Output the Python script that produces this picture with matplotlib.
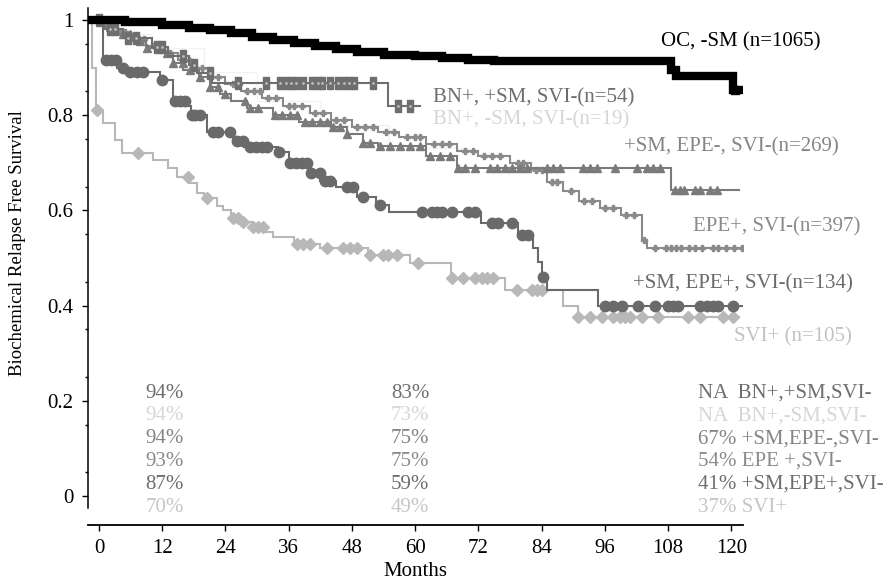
import numpy as np
import matplotlib
matplotlib.use("Agg")
import matplotlib.pyplot as plt
from matplotlib.ticker import FixedLocator

plt.rcParams['font.family'] = ['Liberation Serif', 'DejaVu Serif']

# ---------------- data (months, survival) ----------------
# OC, -SM (n=1065)
t_oc = [-1.5, 5, 12, 17, 21, 25, 29, 33, 37, 41, 45, 49, 54, 60, 65, 70, 75, 108.5, 109.5, 120.3]
s_oc = [1.0, 0.996, 0.99, 0.984, 0.978, 0.972, 0.965, 0.958, 0.952, 0.945, 0.939, 0.933, 0.927,
        0.924, 0.92, 0.916, 0.913, 0.895, 0.882, 0.853]
c_oc = [120.6]
end_oc = 121.5

# BN+, +SM, SVI- (n=54)
t_bp = [-1.5, 1.0, 4.5, 10, 13, 17, 18.5, 21.5, 54.8]
s_bp = [1.0, 0.981, 0.963, 0.944, 0.925, 0.906, 0.888, 0.868, 0.82]
c_bp = [0, 2, 3, 5.5, 7, 11, 12, 16, 18, 21, 26.4, 31.6, 34.4, 35.5, 36.5, 37.3, 38.8, 40.5,
        41.5, 42.4, 43.9, 45.4, 46.5, 47.5, 48.3, 51.9, 56.8, 59.1]
end_bp = 61

# BN+, -SM, SVI- (n=19)
t_bn = [-1.5, 4, 10, 20, 30, 42, 55]
s_bn = [1.0, 0.97, 0.94, 0.89, 0.83, 0.78, 0.73]
c_bn = []
end_bn = 70

# +SM, EPE-, SVI- (n=269)
t_em = [-1.5, 1, 3, 6, 9, 12, 14, 16, 19, 21, 23, 25, 28, 33, 38, 44, 47, 50, 53, 62, 68, 108.6]
s_em = [1.0, 0.985, 0.97, 0.955, 0.94, 0.93, 0.91, 0.895, 0.88, 0.86, 0.845, 0.83, 0.815, 0.80,
        0.785, 0.775, 0.76, 0.742, 0.735, 0.715, 0.69, 0.643]
c_em = [2, 4.6, 5.9, 7.8, 9.1, 12.9, 14, 15.9, 17.3, 19.2, 21.1, 22.6, 23.9, 27.7, 28.7, 30.2,
        33.4, 34.7, 36.2, 37.6, 39.1, 40.4, 41.9, 43.3, 44.4, 45.7, 47.1, 50.1, 51.4, 53.3, 55.2,
        57.1, 59, 60.9, 62.8, 64.7, 66.6, 68.2, 69.4, 71.3, 74.2, 75.5, 77, 78.4, 79.9, 81.2, 85,
        86.1, 87.5, 91.8, 93.2, 94.5, 97.9, 102.1, 104, 105.1, 106.4, 109.3, 110.2, 111, 113.1,
        114, 115.9, 117.3]
end_em = 121.5

# EPE+, SVI- (n=397)
t_ep = [-1.5, 1, 3, 6, 9, 12, 15, 18, 21, 24, 27, 31, 35, 40, 44, 48, 53, 57, 62, 68, 72, 78,
        82, 85, 88, 91, 95, 99, 103, 104]
s_ep = [1.0, 0.99, 0.975, 0.96, 0.945, 0.93, 0.915, 0.90, 0.88, 0.865, 0.85, 0.835, 0.82, 0.805,
        0.79, 0.775, 0.765, 0.755, 0.74, 0.725, 0.715, 0.70, 0.685, 0.66, 0.64, 0.62, 0.605,
        0.59, 0.538, 0.522]
c_ep = [2, 4, 5, 7.5, 8.5, 10.5, 11.5, 13.5, 16, 17, 19.5, 22.5, 25.5, 26.5, 28, 29.5, 30.5, 32,
        33.5, 36, 37, 38.5, 41, 42.5, 45, 46.5, 49, 50.5, 52, 54.5, 56, 58.5, 60, 61, 63.5, 65,
        66.5, 69.5, 71, 73, 74.5, 76, 79.5, 80.5, 83, 84, 86, 87, 89.5, 92, 93.5, 96, 97.5, 100,
        101.5, 103.5, 105.5, 107.5, 108.5, 109.5, 110.5, 112, 113, 114.5, 116.5, 117.5, 119,
        120.5, 122]
end_ep = 122

# +SM, EPE+, SVI- (n=134)
t_cr = [-1.5, 0.8, 3.5, 5, 11.5, 14, 16.5, 17.5, 20.5, 25.5, 27.5, 34, 36, 40, 42, 45, 49, 52.5,
        55, 72.5, 79.5, 82.3, 83.3, 84.0, 85, 94.7]
s_cr = [1.0, 0.916, 0.90, 0.89, 0.874, 0.83, 0.82, 0.80, 0.765, 0.745, 0.733, 0.723, 0.70,
        0.678, 0.662, 0.65, 0.628, 0.611, 0.597, 0.574, 0.548, 0.521, 0.492, 0.46, 0.433, 0.40]
c_cr = [1.3, 2.3, 3.2, 4.6, 5.9, 7.2, 8.3, 12, 14.4, 15.4, 16.3, 17.7, 18.2, 19.2, 21.6, 22.6,
        24.9, 26.2, 27.3, 28.7, 29.8, 30.9, 31.9, 34.2, 36.2, 37.4, 38.5, 39.5, 40.2, 41.9, 42.9,
        43.8, 47.1, 48.2, 50.1, 53.3, 61.3, 63.2, 64.1, 65.1, 67, 70, 71.3, 74.6, 75.7, 78.4,
        80.3, 81.4, 84.3, 96, 97.5, 99.2, 102.3, 105.5, 108, 108.9, 109.9, 114, 115.4, 116.5,
        117.5, 120.3]
end_cr = 122

# SVI+ (n=105)
t_sv = [-1.5, -1.3, -0.6, 0.8, 3, 4.3, 10.3, 13, 14.8, 17, 18.5, 20, 22.3, 23.5, 25, 27, 29,
        31.5, 33, 37, 42, 51, 59, 66.8, 77, 88, 90.8]
s_sv = [1.0, 0.90, 0.81, 0.783, 0.748, 0.72, 0.706, 0.69, 0.67, 0.657, 0.636, 0.626, 0.61, 0.60,
        0.585, 0.575, 0.565, 0.555, 0.545, 0.53, 0.521, 0.506, 0.489, 0.458, 0.433, 0.40, 0.376]
c_sv = [-0.4, 7.4, 16.9, 20.5, 25.4, 26.4, 27.3, 29.2, 30.2, 31.1, 37.6, 38.7, 40, 43.3, 46.3,
        47.6, 49, 51.4, 53.9, 54.8, 56.5, 60.5, 67, 69.1, 71.3, 72.7, 73.6, 74.8, 79.3, 82.2,
        83.1, 84.1, 90.9, 93.2, 95.4, 97.5, 98.9, 99.8, 100.8, 103, 106.1, 111.8, 114, 118.4,
        120.3]
end_sv = 121.5

# curve labels
curve_labels = ['OC, -SM (n=1065)', 'BN+, +SM, SVI-(n=54)', 'BN+, -SM, SVI-(n=19)',
                '+SM, EPE-, SVI-(n=269)', 'EPE+, SVI-(n=397)', '+SM, EPE+, SVI-(n=134)',
                'SVI+ (n=105)']
label_pos = [(106.7, 0.954), (63.3, 0.836), (63.3, 0.79), (99.6, 0.733), (112.7, 0.565),
             (101.3, 0.445), (120.5, 0.334)]
label_colors = ['#000000', '#6e6e6e', '#d6d6d6', '#858585', '#8a8a8a', '#6a6a6a', '#c2c2c2']

# survival table
col12 = ['94%', '94%', '94%', '93%', '87%', '70%']
col60 = ['83%', '73%', '75%', '75%', '59%', '49%']
col120 = ['NA  BN+,+SM,SVI-', 'NA  BN+,-SM,SVI-', '67% +SM,EPE-,SVI-', '54% EPE +,SVI-',
          '41% +SM,EPE+,SVI-', '37% SVI+']
row_colors = ['#6e6e6e', '#d6d6d6', '#858585', '#8a8a8a', '#6e6e6e', '#c6c6c6']

xticks = [0, 12, 24, 36, 48, 60, 72, 84, 96, 108, 120]
yticks = [0, 0.2, 0.4, 0.6, 0.8, 1.0]
ytick_labels = ['0', '0.2', '0.4', '0.6', '0.8', '1']

# ---------------- plotting ----------------
W, H = 886, 587
fig = plt.figure(figsize=(W / 100, H / 100), dpi=100)
ax = fig.add_axes([88 / W, 1 - 508 / H, (743 - 88) / W, (508 - 8) / H])
ax.set_xlim(-2.09, 122.2)
ax.set_ylim(-0.025, 1.025)


def km(t, s, c, end, color, lw, marker=None, ms=6, mfc=None, mec=None, z=2, **kw):
    t = np.asarray(t, float)
    s = np.asarray(s, float)
    ax.step(np.r_[t, end], np.r_[s, s[-1]], where='post', color=color, lw=lw, zorder=z,
            solid_joinstyle='miter')
    if marker is not None and len(c):
        c = np.asarray(c, float)
        idx = np.clip(np.searchsorted(t, c, side='right') - 1, 0, len(s) - 1)
        ax.plot(c, s[idx], ls='none', marker=marker, ms=ms,
                mfc=mfc if mfc else color, mec=mec if mec else color, zorder=z + 0.5, **kw)
        return c, s[idx]
    return None


# faint BN+, -SM (barely visible in the original)
km(t_bn, s_bn, c_bn, end_bn, '#f3f3f3', 1.0, z=1)
# SVI+
km(t_sv, s_sv, c_sv, end_sv, '#b8b8b8', 1.5, marker='D', ms=6, z=2)
# +SM, EPE+
km(t_cr, s_cr, c_cr, end_cr, '#6a6a6a', 1.5, marker='o', ms=7.5, z=3)
# EPE+
km(t_ep, s_ep, c_ep, end_ep, '#8a8a8a', 1.5, marker='P', ms=5, z=4)
# +SM, EPE-
km(t_em, s_em, c_em, end_em, '#7a7a7a', 1.5, marker='^', ms=5.5, z=5)
# BN+, +SM (tall rectangles with a light dot)
rect = [(-0.55, -1), (0.55, -1), (0.55, 1), (-0.55, 1), (-0.55, -1)]
res = km(t_bp, s_bp, c_bp, end_bp, '#6e6e6e', 1.5, marker=rect, ms=9, z=6)
if res is not None:
    ax.plot(res[0], res[1], ls='none', marker='o', ms=2, mfc='#bdbdbd', mec='none', zorder=7)
# OC, -SM (thick black band)
km(t_oc, s_oc, c_oc, end_oc, '#000000', 6, marker='s', ms=6, z=8)

# curve labels
for txt, (x, y), col in zip(curve_labels, label_pos, label_colors):
    ax.text(x, y, txt, color=col, fontsize=15, ha='left', va='center', clip_on=False)

# table
for i in range(len(col12)):
    y = 0.216 - i * 0.0478
    ax.text(12.4, y, col12[i], color=row_colors[i], fontsize=15, ha='center', va='center',
            clip_on=False)
    ax.text(59, y, col60[i], color=row_colors[i], fontsize=15, ha='center', va='center',
            clip_on=False)
    ax.text(113.7, y, col120[i], color=row_colors[i], fontsize=15, ha='left', va='center',
            clip_on=False)

# axes styling
for side in ['top', 'right']:
    ax.spines[side].set_visible(False)
ax.spines['bottom'].set_position(('outward', 12))
ax.spines['left'].set_linewidth(1.1)
ax.spines['bottom'].set_linewidth(1.3)
ax.set_xticks(xticks)
ax.set_xticklabels([str(v) for v in xticks])
ax.set_yticks(yticks)
ax.set_yticklabels(ytick_labels)
ax.yaxis.set_minor_locator(FixedLocator([v / 100 for v in range(5, 100, 10)]))
ax.tick_params(axis='both', which='major', direction='out', length=4.5, width=1.0,
               labelsize=15, pad=6, colors='black')
ax.tick_params(axis='y', which='minor', direction='out', length=2.5, width=1.0)

fig.text(18 / W, 1 - 243 / H, 'Biochemical Relapse Free Survival', rotation=90,
         ha='center', va='center', fontsize=13.5)
fig.text(415 / W, 1 - 572 / H, 'Months', ha='center', va='center', fontsize=15)

fig.savefig('out.png', dpi=100)
